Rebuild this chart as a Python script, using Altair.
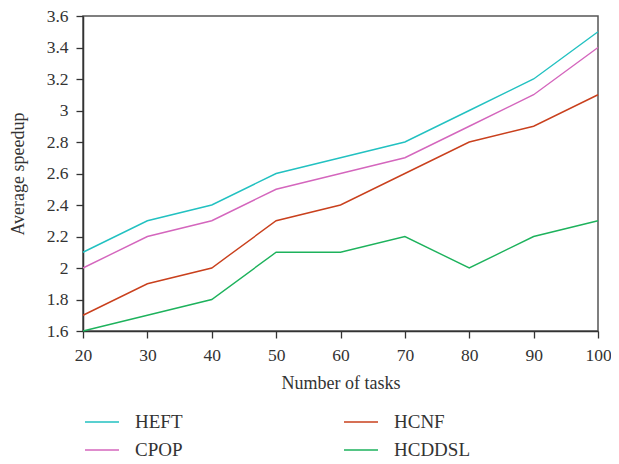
import altair as alt
import pandas as pd

tasks = [20, 30, 40, 50, 60, 70, 80, 90, 100]
heft = [2.1, 2.3, 2.4, 2.6, 2.7, 2.8, 3.0, 3.2, 3.5]
cpop = [2.0, 2.2, 2.3, 2.5, 2.6, 2.7, 2.9, 3.1, 3.4]
hcnf = [1.7, 1.9, 2.0, 2.3, 2.4, 2.6, 2.8, 2.9, 3.1]
hcddsl = [1.6, 1.7, 1.8, 2.1, 2.1, 2.2, 2.0, 2.2, 2.3]

series = {"HEFT": heft, "CPOP": cpop, "HCNF": hcnf, "HCDDSL": hcddsl}
legend_order = ["HEFT", "HCNF", "CPOP", "HCDDSL"]
colors = ["#22c1c1", "#c9401d", "#d466bd", "#1db25c"]

rows = []
for name, vals in series.items():
    for t, v in zip(tasks, vals):
        rows.append({"tasks": t, "speedup": v, "method": name})
df = pd.DataFrame(rows)

font = "Liberation Serif"

chart = alt.Chart(df).mark_line(strokeWidth=1.4).encode(
    x=alt.X("tasks:Q", title="Number of tasks",
            scale=alt.Scale(domain=[20, 100], nice=False),
            axis=alt.Axis(values=tasks, grid=False, labelFlush=False)),
    y=alt.Y("speedup:Q", title="Average speedup",
            scale=alt.Scale(domain=[1.6, 3.6], nice=False, zero=False),
            axis=alt.Axis(values=[1.6, 1.8, 2.0, 2.2, 2.4, 2.6, 2.8, 3.0, 3.2, 3.4, 3.6],
                          grid=False, labelFlush=False,
                          labelExpr="datum.value == 2 ? '2' : datum.value == 3 ? '3' : format(datum.value, '.1f')")),
    color=alt.Color("method:N", sort=legend_order,
                    scale=alt.Scale(domain=legend_order, range=colors),
                    legend=alt.Legend(title=None, orient="none", legendX=1, legendY=388,
                                      columns=2, direction="horizontal",
                                      symbolType="stroke", symbolSize=1156,
                                      symbolStrokeWidth=1.4, labelOffset=15,
                                      columnPadding=158, rowPadding=-8,
                                      labelFontSize=19, labelFont=font,
                                      labelColor="#333333", padding=0)),
    detail="method:N",
).properties(
    width=515, height=315,
    padding={"left": 75, "top": 8, "right": 13, "bottom": 125},
    autosize=alt.AutoSizeParams(type="none"),
).configure_view(
    stroke="#555555", strokeWidth=1.5
).configure_axis(
    labelFont=font, titleFont=font, labelFontSize=17.5, titleFontSize=18,
    titleFontWeight="normal", labelColor="#333333", titleColor="#333333",
    domainColor="#333333", domainWidth=1.5, tickColor="#333333", tickWidth=1.3,
    tickSize=7,
).configure_axisX(
    labelPadding=8, titlePadding=11
).configure_axisY(
    labelPadding=8, titlePadding=19
)

chart.save("out.html", embed_options={"renderer": "svg", "actions": False})
